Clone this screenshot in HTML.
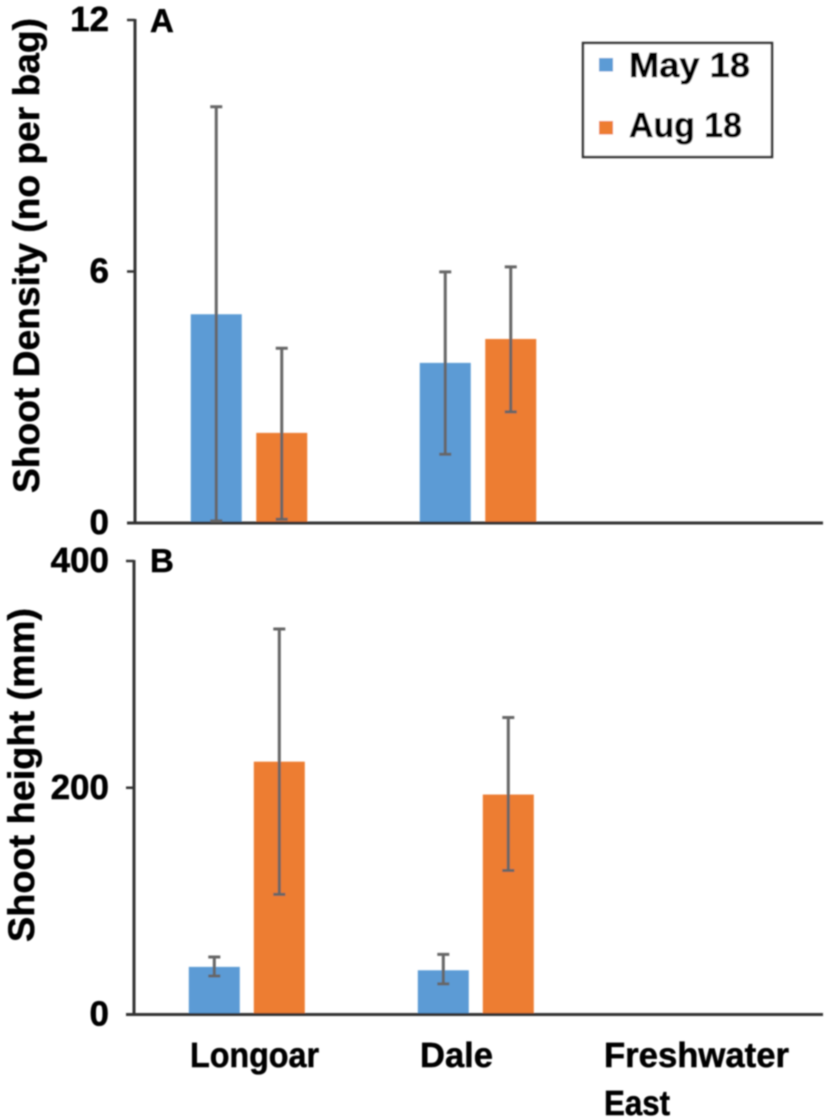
<!DOCTYPE html>
<html lang="en">
<head>
<meta charset="utf-8">
<title>Shoot density and shoot height</title>
<style>
html,body{margin:0;padding:0;background:#fff;}
svg{display:block;}
text{font-family:"Liberation Sans",Arial,sans-serif;font-weight:700;fill:#000;stroke:#000;stroke-width:0.5px;text-rendering:geometricPrecision;}
</style>
</head>
<body>
<svg id="chart" xmlns="http://www.w3.org/2000/svg" width="827" height="1120" viewBox="0 0 827 1120">
<defs><filter id="soft" x="-2%" y="-2%" width="104%" height="104%"><feGaussianBlur stdDeviation="0.7"/></filter></defs>
<g id="root" filter="url(#soft)"></g>
</svg>
<script>
const categories = ['Longoar', 'Dale', 'Freshwater East'];
const seriesNames = ['May 18', 'Aug 18'];
const densityMay = [4.98, 3.82, null];
const densityAug = [2.15, 4.39, null];
const densityMayUpper = [9.93, 5.99, null];
const densityMayLower = [0.05, 1.64, null];
const densityAugUpper = [4.17, 6.11, null];
const densityAugLower = [0.09, 2.65, null];
const densityTicks = [0, 6, 12];
const heightMay = [42, 39, null];
const heightAug = [223, 194, null];
const heightMayUpper = [50.7, 53, null];
const heightMayLower = [34, 27, null];
const heightAugUpper = [340, 262, null];
const heightAugLower = [106, 127, null];
const heightTicks = [0, 200, 400];

const SVGNS = 'http://www.w3.org/2000/svg';
const root = document.getElementById('root');
const BLUE = '#5b9bd5', ORANGE = '#ed7d31', AXIS = '#333333', ERR = '#666666';

function make(tag, attrs, parent) {
  const el = document.createElementNS(SVGNS, tag);
  for (const k in attrs) el.setAttribute(k, attrs[k]);
  (parent || root).appendChild(el);
  return el;
}
function label(str, attrs, parent) {
  const el = make('text', attrs, parent);
  el.textContent = str;
  return el;
}

function drawPanel(cfg) {
  const y = v => cfg.y0 - (v / cfg.max) * (cfg.y0 - cfg.yTop);
  const cx = i => cfg.x0 + cfg.band * (i + 0.5);
  const group = make('g', {});
  
  

  const yAxis = make('line', {x1: cfg.axisX, x2: cfg.axisX, y1: y(cfg.max) - 1, y2: cfg.y0, stroke: AXIS, 'stroke-width': 3}, group);
  
  

  cfg.ticks.forEach(function (t) {
    const tick = make('line', {x1: cfg.axisX - 8, x2: cfg.axisX, y1: y(t), y2: y(t), stroke: AXIS, 'stroke-width': 2.5}, group);
    
    
    const tl = label(String(t), {x: 109, y: y(t) + cfg.tickDy, 'text-anchor': 'end', 'font-size': 35}, group);
    
    
  });

  const series = [
    {vals: cfg.may, up: cfg.mayUp, lo: cfg.mayLo, color: BLUE, off: -cfg.offset, key: 'may'},
    {vals: cfg.aug, up: cfg.augUp, lo: cfg.augLo, color: ORANGE, off: cfg.offset, key: 'aug'}
  ];
  series.forEach(function (s) {
    s.vals.forEach(function (v, i) {
      if (v === null) return;
      const x = cx(i) + s.off;
      const bar = make('rect', {x: x - cfg.barW / 2, y: y(v), width: cfg.barW, height: cfg.y0 - y(v), fill: s.color}, group);
      
      
    });
  });

  const xAxis = make('line', {x1: cfg.axisX - 8, x2: 823, y1: cfg.y0, y2: cfg.y0, stroke: AXIS, 'stroke-width': 3}, group);
  
  

  series.forEach(function (s) {
    s.vals.forEach(function (v, i) {
      if (v === null) return;
      const x = cx(i) + s.off;
      const eb = make('path', {
        d: 'M' + x + ' ' + y(s.up[i]) + 'V' + y(s.lo[i]) +
           'M' + (x - 6) + ' ' + y(s.up[i]) + 'H' + (x + 6) +
           'M' + (x - 6) + ' ' + y(s.lo[i]) + 'H' + (x + 6),
        stroke: ERR, 'stroke-width': 3, fill: 'none'
      }, group);
      
      
    });
  });

  const letter = label(cfg.letter, {x: cfg.letterX, y: cfg.letterY, 'font-size': 33}, group);
  
  

  const title = label(cfg.title, {
    transform: 'translate(' + cfg.titleX + ' ' + cfg.titleBottom + ') rotate(-90)',
    x: 0, y: 0, 'font-size': 37, textLength: cfg.titleLen, lengthAdjust: 'spacingAndGlyphs'
  }, group);
  
  
}

drawPanel({
  name: 'panel-a-shoot-density', letter: 'A', letterX: 150, letterY: 32,
  title: 'Shoot Density (no per bag)', titleX: 39, titleBottom: 493, titleLen: 475,
  max: 12, ticks: densityTicks, y0: 523, yTop: 20, axisX: 135, tickDy: 11,
  x0: 134.5, band: 229, offset: 32.75, barW: 51,
  may: densityMay, aug: densityAug, mayUp: densityMayUpper, mayLo: densityMayLower,
  augUp: densityAugUpper, augLo: densityAugLower
});
drawPanel({
  name: 'panel-b-shoot-height', letter: 'B', letterX: 150, letterY: 572,
  title: 'Shoot height (mm)', titleX: 34, titleBottom: 942, titleLen: 334,
  max: 400, ticks: heightTicks, y0: 1014.5, yTop: 561, axisX: 134, tickDy: 11,
  x0: 132.3, band: 229, offset: 32.5, barW: 51,
  may: heightMay, aug: heightAug, mayUp: heightMayUpper, mayLo: heightMayLower,
  augUp: heightAugUpper, augLo: heightAugLower
});

/* category labels */
const catLayout = [
  {x: 190, lines: [[1067, 129]]},
  {x: 420, lines: [[1067, 73]]},
  {x: 604, lines: [[1067, 185], [1115, 66]]}
];
categories.forEach(function (c, i) {
  const words = catLayout[i].lines.length > 1 ? c.split(' ') : [c];
  words.forEach(function (w, j) {
    const ln = catLayout[i].lines[j];
    const t = label(w, {x: catLayout[i].x, y: ln[0], 'font-size': 35, textLength: ln[1], lengthAdjust: 'spacingAndGlyphs'});
    
    
  });
});

/* legend */
const legend = make('g', {});


const box = make('rect', {x: 583, y: 43, width: 189, height: 114, fill: '#fff', stroke: AXIS, 'stroke-width': 2.5}, legend);


const legendColors = [BLUE, ORANGE];
const legendRows = [[58, 77, 121], [121, 137, 113]];
seriesNames.forEach(function (n, i) {
  const sw = make('rect', {x: 599, y: legendRows[i][0], width: 14, height: 13.5, fill: legendColors[i]}, legend);
  
  
  const t = label(n, {x: 629, y: legendRows[i][1], 'font-size': 35, textLength: legendRows[i][2], lengthAdjust: 'spacingAndGlyphs'}, legend);
  
  
});
</script>
</body>
</html>
